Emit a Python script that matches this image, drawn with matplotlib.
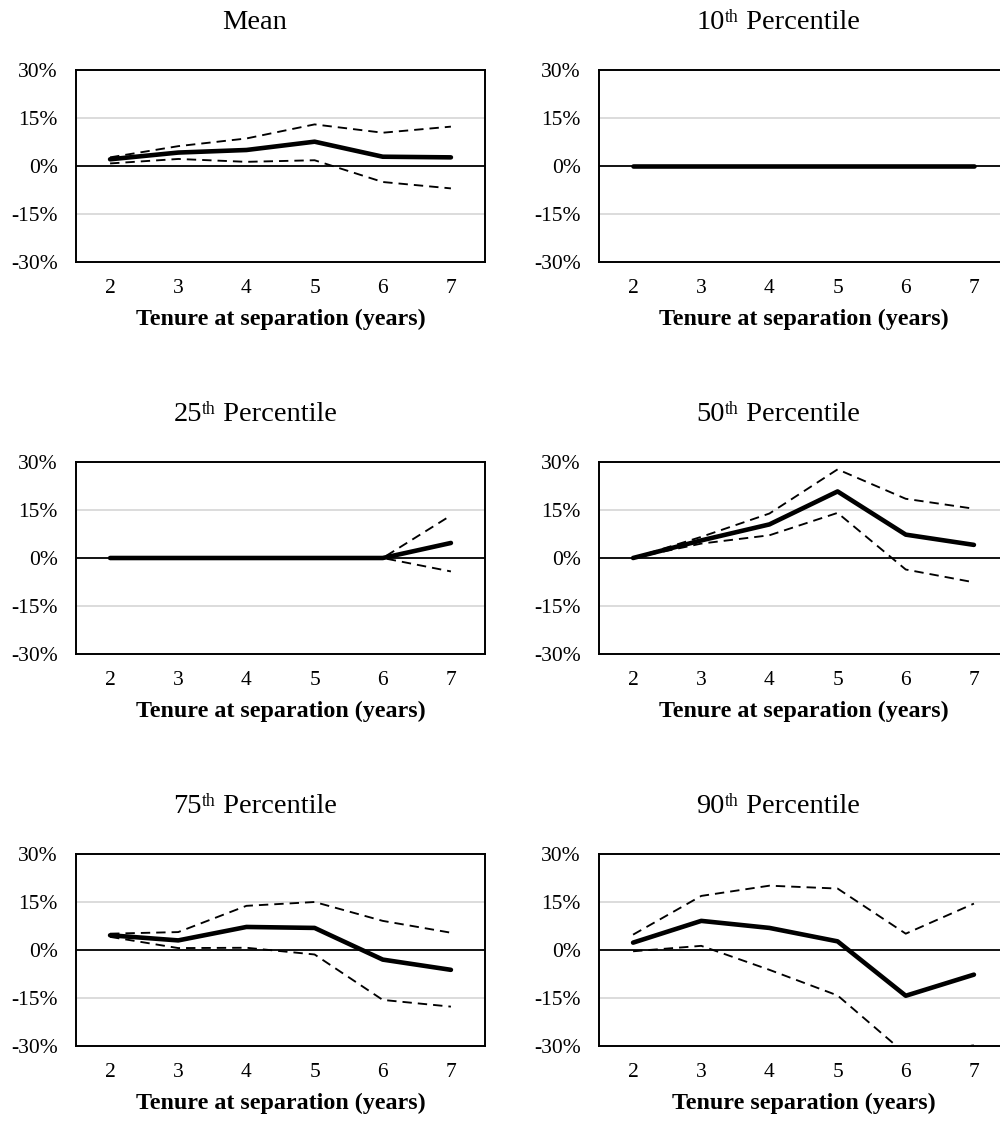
import matplotlib
matplotlib.use("Agg")
import matplotlib.pyplot as plt
from matplotlib.ticker import FuncFormatter

plt.rcParams['font.family'] = ['Liberation Serif', 'DejaVu Serif']

tenure = [2, 3, 4, 5, 6, 7]

# title pieces: number, superscript, rest
title_num = ['', '10', '25', '50', '75', '90']
title_sup = ['', 'th', 'th', 'th', 'th', 'th']
title_rest = ['Mean', ' Percentile', ' Percentile', ' Percentile', ' Percentile', ' Percentile']
xlabels = ['Tenure at separation (years)'] * 5 + ['Tenure separation (years)']

# point estimates (%)
mean_est = [2.1, 4.2, 5.0, 7.6, 2.9, 2.7]
p10_est = [0, 0, 0, 0, 0, 0]
p25_est = [0, 0, 0, 0, 0, 4.7]
p50_est = [0, 5.5, 10.5, 20.8, 7.3, 4.1]
p75_est = [4.6, 3.0, 7.2, 6.9, -3.0, -6.2]
p90_est = [2.3, 9.1, 6.9, 2.7, -14.3, -7.7]

# upper bounds (%)
mean_hi = [2.7, 6.2, 8.6, 13.0, 10.4, 12.3]
p10_hi = [0, 0, 0, 0, 0, 0]
p25_hi = [0, 0, 0, 0, 0, 13.3]
p50_hi = [0, 6.6, 13.9, 27.7, 18.5, 15.4]
p75_hi = [5.1, 5.6, 13.8, 15.0, 9.1, 5.4]
p90_hi = [4.8, 16.9, 20.1, 19.2, 5.1, 14.5]

# lower bounds (%)
mean_lo = [0.8, 2.2, 1.3, 1.8, -5.0, -7.0]
p10_lo = [0, 0, 0, 0, 0, 0]
p25_lo = [0, 0, 0, 0, 0, -4.2]
p50_lo = [0, 4.5, 7.1, 14.1, -3.6, -7.6]
p75_lo = [4.1, 0.6, 0.7, -1.4, -15.6, -17.7]
p90_lo = [-0.4, 1.3, -6.2, -14.2, -32.5, -29.8]

ests = [mean_est, p10_est, p25_est, p50_est, p75_est, p90_est]
his = [mean_hi, p10_hi, p25_hi, p50_hi, p75_hi, p90_hi]
los = [mean_lo, p10_lo, p25_lo, p50_lo, p75_lo, p90_lo]

W, H = 1000, 1122
fig = plt.figure(figsize=(W / 100, H / 100), dpi=100)
renderer = fig.canvas.get_renderer()

lefts = [76, 599]
tops = [70, 462, 854]
aw, ah = 409, 192
title_x = [255, 778]
tfs = 20.5


def px_width(txt, size):
    t = fig.text(0, 0, txt, fontsize=size)
    w = t.get_window_extent(renderer).width
    t.remove()
    return w


for i in range(6):
    r, c = divmod(i, 2)
    l, t = lefts[c], tops[r]
    ax = fig.add_axes([l / W, 1 - (t + ah) / H, aw / W, ah / H])
    ax.set_xlim(1.5, 7.5)
    ax.set_ylim(-30, 30)
    ax.set_yticks([-30, -15, 0, 15, 30])
    ax.set_xticks(tenure)
    ax.yaxis.set_major_formatter(FuncFormatter(lambda v, p: '%d%%' % v))
    ax.tick_params(length=0, labelsize=15.5, pad=13)
    ax.tick_params(axis='x', pad=12)
    for v in [-15, 15]:
        ax.axhline(v, color='#d9d9d9', lw=1.3, zorder=1)
    ax.axhline(0, color='black', lw=1.3, zorder=2)
    for s in ax.spines.values():
        s.set_linewidth(1.4)
        s.set_color('black')
    ax.plot(tenure, ests[i], color='black', lw=3.3, solid_capstyle='round',
            solid_joinstyle='round', zorder=3)
    ax.plot(tenure, his[i], color='black', lw=1.35, dashes=(5, 3.2), zorder=4)
    ax.plot(tenure, los[i], color='black', lw=1.35, dashes=(5, 3.2), zorder=4)

    # title built from pieces so the superscript sits like the original
    base_y = 1 - (t - 41) / H
    sfs = tfs * 0.62
    w_num = px_width(title_num[i], tfs) if title_num[i] else 0
    w_sup = px_width(title_sup[i], sfs) if title_sup[i] else 0
    w_rest = px_width(title_rest[i], tfs)
    x0 = title_x[c] - (w_num + w_sup + w_rest) / 2
    if title_num[i]:
        fig.text(x0 / W, base_y, title_num[i], fontsize=tfs, va='baseline')
        fig.text((x0 + w_num) / W, base_y + 7 / H, title_sup[i], fontsize=sfs,
                 va='baseline')
    fig.text((x0 + w_num + w_sup) / W, base_y, title_rest[i], fontsize=tfs,
             va='baseline')

    fig.text((l + aw / 2) / W, 1 - (t + ah + 63) / H, xlabels[i], ha='center',
             va='baseline', fontsize=17.3, fontweight='bold')

fig.savefig('out.png', dpi=100)
